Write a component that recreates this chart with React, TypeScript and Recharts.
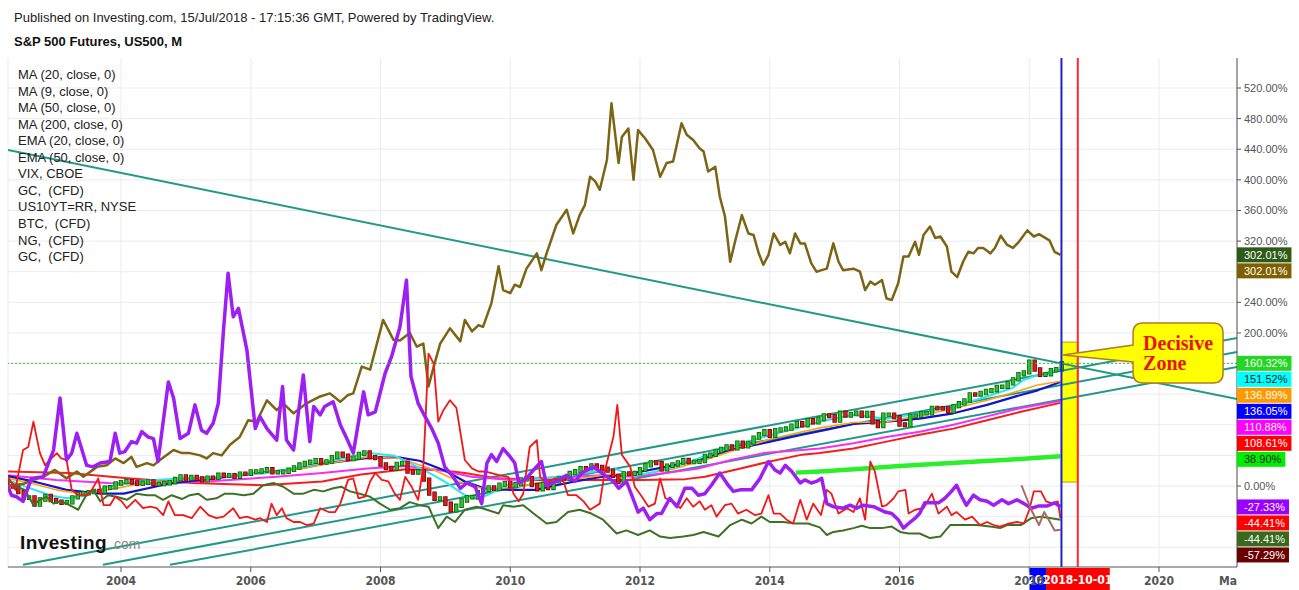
import React from 'react';
import {
  ComposedChart, Line, XAxis, YAxis, CartesianGrid,
  ReferenceLine, ReferenceArea, ReferenceDot,
} from 'recharts';

const SANS = '"Liberation Sans", Arial, sans-serif';
const NARROW = '"Liberation Sans Narrow", "DejaVu Sans Condensed", "Arial Narrow", sans-serif';
const SERIF = '"Liberation Serif", "Times New Roman", serif';

const CHART_W = 1299;
const CHART_H = 590;
const MARGIN = { top: 58, right: 0, bottom: 0, left: 8 };
const Y_AXIS_W = 62;
const X_AXIS_H = 23;
const PLOT_H = CHART_H - MARGIN.top - X_AXIS_H;

const X_DOMAIN: [number, number] = [2002.258, 2021.202];
const Y_DOMAIN: [number, number] = [-105.8, 559.2];

const xTicks = [2004, 2006, 2008, 2010, 2012, 2014, 2016, 2018, 2020];
const gridYValues = [-80, -40, 0, 40, 80, 120, 160, 200, 240, 280, 320, 360, 400, 440, 480, 520];
const yTickLabels = [0, 200, 240, 320, 360, 400, 440, 480, 520];

const legendItems = [
  'MA (20, close, 0)', 'MA (9, close, 0)', 'MA (50, close, 0)', 'MA (200, close, 0)',
  'EMA (20, close, 0)', 'EMA (50, close, 0)', 'VIX, CBOE', 'GC,  (CFD)',
  'US10YT=RR, NYSE', 'BTC,  (CFD)', 'NG,  (CFD)', 'GC,  (CFD)',
];

// S&P 500 futures monthly closes, Apr 2002 .. Jul 2018
const spxStart = 2002.25;
const spxPrevClose = 1147;
const spxCloses = [
  1076, 1067, 990, 912, 916, 815, 886, 936, 880,
  856, 841, 848, 917, 964, 975, 990, 1008, 996, 1051, 1058, 1112,
  1131, 1145, 1126, 1107, 1121, 1141, 1102, 1104, 1115, 1130, 1174, 1212,
  1181, 1204, 1181, 1157, 1192, 1191, 1234, 1220, 1229, 1207, 1250, 1248,
  1280, 1281, 1295, 1311, 1270, 1270, 1277, 1304, 1336, 1378, 1401, 1418,
  1438, 1407, 1421, 1482, 1531, 1503, 1455, 1474, 1527, 1549, 1481, 1468,
  1379, 1331, 1323, 1386, 1400, 1280, 1267, 1283, 1166, 969, 896, 903,
  826, 735, 798, 873, 919, 919, 988, 1021, 1057, 1036, 1096, 1115,
  1074, 1104, 1169, 1187, 1089, 1031, 1102, 1049, 1141, 1183, 1181, 1258,
  1286, 1327, 1326, 1364, 1345, 1321, 1292, 1219, 1131, 1253, 1247, 1258,
  1312, 1366, 1408, 1398, 1310, 1362, 1379, 1407, 1441, 1412, 1416, 1426,
  1498, 1515, 1569, 1598, 1631, 1606, 1686, 1633, 1682, 1757, 1806, 1848,
  1783, 1860, 1872, 1884, 1924, 1960, 1931, 2003, 1972, 2018, 2068, 2059,
  1995, 2105, 2068, 2086, 2107, 2063, 2104, 1972, 1920, 2079, 2080, 2044,
  1940, 1932, 2060, 2065, 2097, 2099, 2174, 2171, 2168, 2126, 2199, 2239,
  2279, 2364, 2363, 2384, 2412, 2423, 2470, 2472, 2519, 2575, 2648, 2674,
  2824, 2714, 2641, 2648, 2705, 2718, 2801,
];

const gold = [
  [2002.25, 0], [2002.5, 3], [2002.65, 8], [2002.8, 12], [2002.98, 21], [2003.16, 10], [2003.32, 19],
  [2003.42, 12], [2003.63, 25], [2003.78, 27], [2003.91, 36], [2004.04, 30], [2004.16, 38], [2004.24, 25],
  [2004.4, 30], [2004.5, 27], [2004.6, 34], [2004.81, 47], [2004.94, 43], [2005.06, 43], [2005.22, 40],
  [2005.32, 36], [2005.42, 43], [2005.55, 40], [2005.68, 54], [2005.83, 64], [2005.96, 86], [2006.09, 84],
  [2006.25, 112], [2006.4, 99], [2006.5, 108], [2006.66, 95], [2006.86, 108], [2007.07, 117], [2007.22, 121],
  [2007.38, 110], [2007.5, 119], [2007.58, 121], [2007.71, 156], [2007.84, 152], [2008.04, 217], [2008.2, 191],
  [2008.3, 190], [2008.45, 200], [2008.56, 182], [2008.66, 186], [2008.74, 130], [2008.82, 156], [2008.92, 186],
  [2009.07, 206], [2009.23, 189], [2009.3, 217], [2009.41, 202], [2009.51, 210], [2009.58, 208], [2009.71, 239],
  [2009.82, 287], [2009.89, 256], [2010.0, 252], [2010.07, 263], [2010.15, 260], [2010.25, 284], [2010.41, 304],
  [2010.48, 282], [2010.56, 304], [2010.71, 341], [2010.87, 361], [2010.97, 330], [2011.07, 354], [2011.15, 367],
  [2011.23, 404], [2011.31, 398], [2011.38, 387], [2011.49, 426], [2011.56, 500], [2011.67, 422], [2011.72, 456],
  [2011.82, 467], [2011.9, 400], [2011.97, 465], [2012.08, 454], [2012.2, 439], [2012.31, 404], [2012.41, 422],
  [2012.51, 424], [2012.64, 474], [2012.72, 459], [2012.82, 452], [2012.92, 441], [2012.98, 437], [2013.05, 411],
  [2013.16, 417], [2013.23, 378], [2013.31, 352], [2013.39, 293], [2013.47, 321], [2013.57, 354], [2013.67, 330],
  [2013.75, 328], [2013.83, 304], [2013.9, 289], [2013.98, 302], [2014.06, 330], [2014.16, 315], [2014.24, 319],
  [2014.31, 304], [2014.39, 330], [2014.47, 317], [2014.54, 317], [2014.64, 291], [2014.72, 280], [2014.8, 282],
  [2014.88, 284], [2014.98, 317], [2015.06, 293], [2015.13, 282], [2015.29, 284], [2015.39, 280], [2015.47, 256],
  [2015.55, 267], [2015.62, 263], [2015.73, 269], [2015.8, 245], [2015.88, 243], [2015.98, 265], [2016.06, 300],
  [2016.14, 300], [2016.24, 319], [2016.3, 302], [2016.37, 328], [2016.47, 339], [2016.55, 324], [2016.63, 326],
  [2016.73, 313], [2016.8, 280], [2016.89, 273], [2016.98, 293], [2017.06, 306], [2017.14, 304], [2017.21, 311],
  [2017.29, 311], [2017.4, 304], [2017.47, 311], [2017.56, 327], [2017.66, 315], [2017.75, 311], [2017.84, 319],
  [2017.97, 334], [2018.07, 326], [2018.15, 329], [2018.31, 321], [2018.39, 306], [2018.48, 302],
];

const vix = [
  [2002.26, -1], [2002.31, -12], [2002.39, -14], [2002.49, -20], [2002.62, 10], [2002.8, 12], [2002.96, 47],
  [2003.06, 115], [2003.16, 34], [2003.24, 43], [2003.32, 69], [2003.47, 27], [2003.57, 25], [2003.68, 30],
  [2003.83, 32], [2003.91, 69], [2003.98, 43], [2004.06, 45], [2004.16, 58], [2004.24, 56], [2004.32, 71],
  [2004.42, 64], [2004.5, 62], [2004.57, 32], [2004.73, 136], [2004.81, 115], [2004.91, 62], [2005.04, 69],
  [2005.14, 106], [2005.24, 73], [2005.32, 69], [2005.42, 82], [2005.5, 108], [2005.58, 204], [2005.65, 278],
  [2005.73, 221], [2005.81, 232], [2005.94, 178], [2006.07, 75], [2006.14, 91], [2006.25, 75], [2006.4, 60],
  [2006.49, 130], [2006.55, 60], [2006.66, 47], [2006.81, 145], [2006.91, 58], [2006.97, 104], [2007.07, 93],
  [2007.14, 104], [2007.27, 110], [2007.38, 80], [2007.48, 62], [2007.58, 43], [2007.74, 123], [2007.81, 93],
  [2007.92, 97], [2008.07, 147], [2008.17, 169], [2008.3, 208], [2008.4, 269], [2008.47, 143], [2008.58, 108],
  [2008.66, 95], [2008.79, 75], [2008.89, 56], [2008.99, 25], [2009.12, 12], [2009.23, -3], [2009.33, 4],
  [2009.46, -1], [2009.56, -23], [2009.64, 30], [2009.71, 41], [2009.79, 32], [2009.89, 49], [2010.0, 38],
  [2010.07, 30], [2010.13, 4], [2010.25, 10], [2010.36, 21], [2010.48, 32], [2010.56, 1], [2010.71, 6],
  [2010.87, 14], [2011.0, 6], [2011.1, 17], [2011.28, 25], [2011.38, 19], [2011.49, 12], [2011.59, 6],
  [2011.67, -3], [2011.79, 6], [2011.9, -18], [2011.97, -34], [2012.05, -29], [2012.15, -44], [2012.26, -36],
  [2012.33, -36], [2012.46, -16], [2012.57, -27], [2012.69, -3], [2012.8, -3], [2012.9, -12], [2013.0, -10],
  [2013.1, 1], [2013.23, 17], [2013.36, 1], [2013.44, -7], [2013.54, -5], [2013.72, -5], [2013.85, 10],
  [2013.98, 32], [2014.08, 21], [2014.16, 17], [2014.24, 27], [2014.34, 19], [2014.47, 4], [2014.54, 8],
  [2014.64, 4], [2014.72, 6], [2014.8, 10], [2014.88, -23], [2014.98, -27], [2015.13, -29], [2015.24, -25],
  [2015.34, -29], [2015.44, -25], [2015.6, -27], [2015.78, -34], [2015.88, -36], [2015.98, -44], [2016.06, -55],
  [2016.14, -49], [2016.24, -42], [2016.31, -36], [2016.39, -22], [2016.49, -22], [2016.6, -22], [2016.7, -16],
  [2016.8, -7], [2016.88, 1], [2016.96, -14], [2017.03, -25], [2017.14, -12], [2017.24, -18], [2017.35, -20],
  [2017.45, -25], [2017.58, -18], [2017.68, -23], [2017.81, -18], [2017.92, -23], [2018.03, -29], [2018.15, -26],
  [2018.28, -26], [2018.39, -22], [2018.48, -27],
];

const natGas = [
  [2002.26, 12], [2002.37, -5], [2002.49, 47], [2002.57, 51], [2002.65, 84], [2002.75, 43], [2002.83, 27],
  [2002.9, 34], [2003.01, 43], [2003.08, 36], [2003.16, 34], [2003.24, -5], [2003.34, -12], [2003.47, -12],
  [2003.55, -5], [2003.65, 10], [2003.73, -25], [2003.83, -25], [2003.91, -14], [2004.01, -20], [2004.09, -29],
  [2004.22, -18], [2004.34, -29], [2004.45, -27], [2004.55, -29], [2004.65, -38], [2004.73, -20], [2004.83, -38],
  [2004.96, -38], [2005.09, -42], [2005.22, -27], [2005.35, -38], [2005.47, -42], [2005.58, -40], [2005.73, -29],
  [2005.83, -42], [2005.94, -40], [2006.07, -44], [2006.14, -42], [2006.25, -47], [2006.32, -23], [2006.4, -38],
  [2006.48, -29], [2006.55, -42], [2006.66, -47], [2006.76, -47], [2006.86, -51], [2006.97, -49], [2007.07, -29],
  [2007.2, -34], [2007.3, -34], [2007.38, -23], [2007.5, 8], [2007.58, 10], [2007.66, -16], [2007.76, -14],
  [2007.84, 6], [2007.92, 17], [2008.02, 8], [2008.12, 6], [2008.22, -10], [2008.3, -18], [2008.38, 12],
  [2008.48, -1], [2008.58, -18], [2008.66, 25], [2008.74, 173], [2008.82, 160], [2008.89, 84], [2008.97, 99],
  [2009.07, 112], [2009.17, 102], [2009.3, 34], [2009.41, 23], [2009.51, 19], [2009.61, 19], [2009.71, 17],
  [2009.84, 14], [2009.97, 12], [2010.05, -10], [2010.13, -20], [2010.2, -10], [2010.3, 51], [2010.41, 60],
  [2010.46, 12], [2010.56, 4], [2010.69, 10], [2010.82, 6], [2010.89, -12], [2011.02, -12], [2011.13, -20],
  [2011.23, -31], [2011.38, -23], [2011.46, 21], [2011.59, 64], [2011.65, 106], [2011.72, 41], [2011.85, 25],
  [2011.92, -1], [2012.03, -14], [2012.13, -27], [2012.23, -23], [2012.31, 10], [2012.39, -16], [2012.51, -20],
  [2012.62, -29], [2012.72, -16], [2012.82, -27], [2012.92, -20], [2013.0, -31], [2013.1, -25], [2013.18, -40],
  [2013.31, -25], [2013.41, -23], [2013.51, -36], [2013.64, -31], [2013.77, -38], [2013.87, -36], [2013.98, -12],
  [2014.06, -36], [2014.16, -36], [2014.26, -44], [2014.36, -49], [2014.47, -18], [2014.57, -44], [2014.67, -23],
  [2014.79, -38], [2014.88, -5], [2014.95, -10], [2015.06, -36], [2015.19, -29], [2015.29, -34], [2015.39, -16],
  [2015.47, -44], [2015.55, 32], [2015.62, 19], [2015.73, -27], [2015.8, -25], [2015.91, -16], [2015.98, -7],
  [2016.09, -5], [2016.14, -36], [2016.24, -31], [2016.37, -29], [2016.5, -10], [2016.6, -36], [2016.73, -27],
  [2016.8, -38], [2016.88, -34], [2017.01, -44], [2017.12, -40], [2017.24, -51], [2017.35, -47], [2017.45, -51],
  [2017.55, -53], [2017.68, -49], [2017.81, -47], [2017.92, -49], [2018.0, -31], [2018.07, -7], [2018.18, -7],
  [2018.26, -20], [2018.36, -23], [2018.44, -20], [2018.48, -42],
];

const us10y = [
  [2002.26, 8], [2002.39, -1], [2002.52, -5], [2002.65, -25], [2002.75, -18], [2002.85, -14], [2002.96, -23],
  [2003.06, -20], [2003.16, -23], [2003.34, -31], [2003.45, -14], [2003.57, -5], [2003.68, -20], [2003.8, -12],
  [2003.93, -14], [2004.09, -18], [2004.24, -10], [2004.4, -12], [2004.52, -12], [2004.65, -18], [2004.78, -12],
  [2004.94, -17], [2005.06, -12], [2005.19, -10], [2005.32, -18], [2005.47, -16], [2005.6, -10], [2005.73, -10],
  [2005.89, -12], [2006.04, -10], [2006.19, 1], [2006.35, 4], [2006.5, -1], [2006.66, -10], [2006.81, -10],
  [2006.97, -5], [2007.12, -7], [2007.27, -3], [2007.4, -1], [2007.53, -7], [2007.68, -10], [2007.84, -14],
  [2007.99, -23], [2008.15, -31], [2008.3, -29], [2008.45, -21], [2008.61, -25], [2008.74, -27], [2008.89, -55],
  [2009.02, -40], [2009.15, -47], [2009.3, -31], [2009.48, -27], [2009.64, -31], [2009.82, -36], [2009.89, -25],
  [2010.05, -27], [2010.2, -25], [2010.36, -36], [2010.56, -49], [2010.71, -47], [2010.89, -34], [2011.07, -31],
  [2011.25, -36], [2011.43, -44], [2011.64, -62], [2011.79, -58], [2011.97, -64], [2012.15, -58], [2012.31, -66],
  [2012.46, -68], [2012.67, -66], [2012.82, -64], [2012.98, -60], [2013.21, -66], [2013.39, -51], [2013.57, -44],
  [2013.72, -49], [2013.87, -40], [2014.0, -47], [2014.21, -47], [2014.39, -49], [2014.59, -49], [2014.77, -54],
  [2014.88, -64], [2014.98, -60], [2015.13, -58], [2015.29, -55], [2015.42, -52], [2015.55, -55], [2015.73, -55],
  [2015.88, -53], [2016.01, -60], [2016.14, -62], [2016.31, -62], [2016.47, -68], [2016.63, -66], [2016.78, -51],
  [2016.99, -51], [2017.19, -51], [2017.4, -53], [2017.55, -55], [2017.66, -51], [2017.87, -51], [2018.03, -42],
  [2018.18, -40], [2018.34, -42], [2018.48, -44],
];

const btc = [
  [2017.88, 1], [2018.03, -31], [2018.15, -51], [2018.23, -34], [2018.3, -44], [2018.39, -58], [2018.48, -57],
];

const ma9 = [
  [2002.26, 8], [2002.6, -3], [2002.9, -12], [2003.16, -16], [2003.47, -12], [2003.78, -1], [2004.3, 7],
  [2005.0, 10], [2005.6, 12], [2006.2, 17], [2006.8, 25], [2007.3, 34], [2007.8, 43], [2008.2, 40],
  [2008.5, 28], [2008.8, 15], [2009.0, 5], [2009.3, -12], [2009.5, -17], [2009.7, -10], [2009.9, 0],
  [2010.3, 8], [2010.8, 13], [2011.3, 19], [2011.6, 23], [2011.9, 13], [2012.2, 18], [2012.5, 24],
  [2012.9, 36], [2013.4, 51], [2013.9, 64], [2014.4, 75], [2014.77, 84], [2015.29, 93], [2015.8, 88],
  [2016.31, 95], [2016.83, 104], [2017.35, 117], [2017.74, 128], [2017.9, 138], [2018.13, 145],
  [2018.31, 149], [2018.48, 151.5],
];

const ema20 = [
  [2002.26, 10], [2002.6, 4], [2003.0, -5], [2003.4, -10], [2003.8, -5], [2004.3, 3], [2005.0, 8],
  [2005.6, 12], [2006.2, 16], [2006.8, 23], [2007.3, 31], [2007.8, 38], [2008.3, 36], [2008.8, 22],
  [2009.2, 6], [2009.6, -4], [2010.0, -2], [2010.5, 4], [2011.0, 9], [2011.5, 15], [2012.0, 15],
  [2012.5, 22], [2013.0, 34], [2013.5, 48], [2014.0, 61], [2014.5, 71], [2014.77, 76], [2015.29, 83],
  [2015.8, 84], [2016.31, 92], [2016.83, 101], [2017.35, 112], [2017.87, 125], [2018.13, 132], [2018.48, 136.9],
];

const ma20 = [
  [2002.26, 13], [2002.7, 5], [2003.16, -5], [2003.68, -10], [2004.04, -10], [2004.73, 3], [2005.73, 13],
  [2006.76, 23], [2007.27, 31], [2007.84, 37], [2008.3, 37], [2008.6, 33], [2009.0, 20], [2009.3, 6],
  [2009.6, -3], [2010.0, -5], [2010.4, -5], [2010.6, -1], [2011.0, 6], [2011.4, 12], [2011.9, 17],
  [2012.4, 25], [2012.9, 34], [2013.4, 47], [2013.9, 56], [2014.5, 67], [2014.9, 74], [2015.29, 81],
  [2015.8, 84], [2016.31, 88], [2016.83, 95], [2017.35, 106], [2017.87, 119], [2018.13, 125], [2018.48, 136],
];

const ema50 = [
  [2002.26, 14], [2003.0, 8], [2003.8, 4], [2004.5, 3], [2005.5, 7], [2006.4, 12], [2007.1, 17],
  [2007.8, 23], [2008.4, 26], [2008.9, 21], [2009.4, 12], [2010.0, 8], [2010.4, 10], [2011.0, 12],
  [2011.4, 14], [2011.9, 12], [2012.4, 17], [2012.9, 23], [2013.4, 34], [2013.9, 43], [2014.5, 47],
  [2014.77, 49], [2015.29, 56], [2015.8, 64], [2016.31, 71], [2016.83, 80], [2017.35, 91], [2017.87, 102],
  [2018.48, 110.9],
];

const ma50 = [
  [2002.26, 19], [2003.2, 17], [2004.1, 10], [2005.1, 4], [2006.2, 1], [2007.1, 6], [2007.7, 15],
  [2008.4, 22], [2008.9, 21], [2009.3, 17], [2009.8, 10], [2010.4, 8], [2011.0, 8], [2012.0, 8],
  [2012.7, 9], [2013.0, 12], [2013.5, 22], [2014.0, 32], [2014.5, 41], [2014.77, 43], [2015.29, 49],
  [2015.8, 58], [2016.31, 67], [2016.83, 75], [2017.35, 86], [2017.87, 97], [2018.48, 108.6],
];

const ma200 = [
  [2014.4, 17.5], [2014.77, 19], [2015.3, 22], [2016.0, 26], [2016.6, 29], [2017.2, 32], [2017.8, 35], [2018.48, 38.9],
];

const trendLines = [
  [[2002.258, 439], [2021.202, 113.7]],
  [[2002.49, -103], [2021.202, 193.4]],
  [[2003.72, -103], [2021.202, 175.1]],
  [[2004.755, -103], [2021.202, 155.5]],
];

const lastPrice = 160.32;
const zone = { x1: 2018.496, x2: 2018.748, y1: 5.2, y2: 188 };
const callout = { x1: 2019.6, x2: 2020.987, y1: 134.6, y2: 213 };
const julyLine = 2018.496;
const octLine = 2018.748;

const axisTags = [
  { value: 302.01, bg: '#2d5a17', fg: '#ffffff' },
  { value: 302.01, bg: '#7f6000', fg: '#ffffff' },
  { value: 160.32, bg: '#22d622', fg: '#ffffff' },
  { value: 151.52, bg: '#00ffff', fg: '#1a1a1a' },
  { value: 136.89, bg: '#ff9900', fg: '#ffffff' },
  { value: 136.05, bg: '#0000ff', fg: '#ffffff' },
  { value: 110.88, bg: '#ff00ff', fg: '#ffffff' },
  { value: 108.61, bg: '#ff0000', fg: '#ffffff' },
  { value: 38.9, bg: '#00ee00', fg: '#1a1a1a' },
  { value: -27.33, bg: '#9900ff', fg: '#ffffff' },
  { value: -44.41, bg: '#ff0000', fg: '#ffffff' },
  { value: -44.41, bg: '#38691c', fg: '#ffffff' },
  { value: -57.29, bg: '#6b0000', fg: '#ffffff' },
];

// ---------- derived ----------
const pts = (arr: number[][]) => arr.map(([x, y]) => ({ x, y }));

const spxBase = spxCloses[0];
const candles = spxCloses.map((c, i) => {
  const o = i === 0 ? spxPrevClose : spxCloses[i - 1];
  return { x: spxStart + i / 12, open: (o / spxBase - 1) * 100, close: (c / spxBase - 1) * 100 };
});
// each candle body becomes its own vertical segment (open -> close), separated by gaps
const bodySegments = (up: boolean) => {
  const out: { x: number; y: number | null }[] = [];
  candles.forEach((k) => {
    if ((k.close >= k.open) !== up) return;
    out.push({ x: k.x, y: k.open }, { x: k.x, y: k.close }, { x: k.x, y: null });
  });
  return out;
};
const upBodies = bodySegments(true);
const downBodies = bodySegments(false);

const TAG_GAP = (16 * (Y_DOMAIN[1] - Y_DOMAIN[0])) / PLOT_H;
const placedTags = (() => {
  let prev = Infinity;
  return axisTags.map((t) => {
    const pos = Math.min(t.value, prev - TAG_GAP);
    prev = pos;
    return { ...t, pos };
  });
})();

const charW = (s: string) =>
  s.split('').reduce((a, ch) => a + (ch === '.' ? 3.06 : ch === '%' ? 9.78 : ch === '-' ? 3.66 : 6.12), 0);

function Callout(props: any) {
  const { x, y, width: w, height: h } = props;
  if (x == null) return null;
  const r = 10;
  const tipX = x - 70;
  const tipY = y + 32;
  const d = `M${x + r},${y} H${x + w - r} Q${x + w},${y} ${x + w},${y + r} V${y + h - r} Q${x + w},${y + h} ${x + w - r},${y + h} H${x + r} Q${x},${y + h} ${x},${y + h - r} V${y + 39} L${tipX},${tipY} L${x},${y + 22} V${y + r} Q${x},${y} ${x + r},${y} Z`;
  return (
    <g>
      <path d={d} fill="#ffff00" stroke="#b07b2c" strokeWidth={1.5} />
      <text x={x + 10} y={y + 27} fill="#e8130f" fontFamily={SERIF} fontWeight="bold" fontSize={20}>Decisive</text>
      <text x={x + 10} y={y + 47} fill="#e8130f" fontFamily={SERIF} fontWeight="bold" fontSize={20}>Zone</text>
    </g>
  );
}

function XTick(props: any) {
  const { x, y, payload } = props;
  return (
    <text x={x} y={y + 11} textAnchor="middle" fill="#555" fontSize={12} fontWeight="bold" fontFamily={NARROW}>
      {payload.value}
    </text>
  );
}

function YTick(props: any) {
  const { x, y, payload } = props;
  return (
    <text x={x + 1} y={y + 4} textAnchor="start" fill="#555" fontSize={11} fontFamily={SANS}>
      {`${Number(payload.value).toFixed(2)}%`}
    </text>
  );
}

function dateTag(text: string, bg: string) {
  return (p: any) => {
    const vb = p.viewBox || {};
    const cx = vb.x;
    const by = (vb.y || 0) + (vb.height || 0);
    if (cx == null) return null;
    return (
      <g>
        <rect x={cx - 32} y={by + 1} width={64} height={22} fill={bg} />
        <text x={cx} y={by + 16.5} textAnchor="middle" fill="#fff" fontSize={12} fontWeight="bold" fontFamily={NARROW}>{text}</text>
      </g>
    );
  };
}

function axisTagShape(text: string, bg: string, fg: string) {
  return (p: any) => {
    const { cx, cy } = p;
    if (cx == null || cy == null) return null;
    const w = 7 + charW(text) + 4;
    return (
      <g>
        <rect x={cx} y={cy - 7.5} width={w} height={15} fill={bg} />
        <text x={cx + 7} y={cy + 4} fill={fg} fontSize={11} fontFamily={SANS}>{text}</text>
      </g>
    );
  };
}

const lineCommon = { dot: false, isAnimationActive: false, type: 'linear' as const, dataKey: 'y', activeDot: false, strokeLinejoin: 'round' as const };
const bodyCommon = { ...lineCommon, connectNulls: false, strokeLinecap: 'square' as const };

export default function App() {
  return (
    <div style={{ position: 'absolute', left: 0, top: 0, width: CHART_W, height: CHART_H, background: '#fff', overflow: 'hidden' }}>
      <ComposedChart width={CHART_W} height={CHART_H} margin={MARGIN}>
        <CartesianGrid stroke="#ebebeb" strokeWidth={1} horizontalValues={gridYValues} />
        <XAxis dataKey="x" type="number" domain={X_DOMAIN} allowDataOverflow ticks={xTicks}
          height={X_AXIS_H} tickSize={5} tickMargin={2} tick={<XTick />}
          axisLine={{ stroke: '#555' }} tickLine={{ stroke: '#555' }} interval={0} />
        <YAxis type="number" orientation="right" domain={Y_DOMAIN} allowDataOverflow ticks={yTickLabels}
          width={Y_AXIS_W} tickSize={4} tickMargin={2} tick={<YTick />}
          axisLine={{ stroke: '#555' }} tickLine={{ stroke: '#555' }} interval={0} />

        <ReferenceArea x1={zone.x1} x2={zone.x2} y1={zone.y1} y2={zone.y2}
          fill="#ffff00" fillOpacity={1} stroke="#b3a100" strokeWidth={1} ifOverflow="visible" />

        {trendLines.map((seg, i) => (
          <Line key={`t${i}`} {...lineCommon} data={pts(seg)} stroke="#21998a" strokeWidth={2} />
        ))}

        <Line {...lineCommon} data={pts(ma50)} stroke="#f41e1e" strokeWidth={2} />
        <Line {...lineCommon} data={pts(ema50)} stroke="#f52ff5" strokeWidth={2} />
        <Line {...lineCommon} data={pts(ma20)} stroke="#1515c8" strokeWidth={2.2} />
        <Line {...lineCommon} data={pts(ema20)} stroke="#ffa11c" strokeWidth={1.6} />
        <Line {...lineCommon} data={pts(ma9)} stroke="#2ee6ee" strokeWidth={2} />
        <Line {...lineCommon} data={pts(ma200)} stroke="#2bef2b" strokeWidth={4.5} />

        <Line {...bodyCommon} data={upBodies} stroke="#125c12" strokeWidth={4.4} />
        <Line {...bodyCommon} data={upBodies} stroke="#26c626" strokeWidth={2.8} />
        <Line {...bodyCommon} data={downBodies} stroke="#620b0b" strokeWidth={4.4} />
        <Line {...bodyCommon} data={downBodies} stroke="#e31818" strokeWidth={2.8} />

        <Line {...lineCommon} data={pts(gold)} stroke="#7c6414" strokeWidth={2.5} />
        <Line {...lineCommon} data={pts(us10y)} stroke="#3f7125" strokeWidth={2} />
        <Line {...lineCommon} data={pts(natGas)} stroke="#f01818" strokeWidth={1.8} />
        <Line {...lineCommon} data={pts(vix)} stroke="#9d1ff2" strokeWidth={3.5} />
        <Line {...lineCommon} data={pts(btc)} stroke="#a86a66" strokeWidth={2} />

        <ReferenceLine y={lastPrice} stroke="#2fbf2f" strokeDasharray="2 2" strokeWidth={1} />
        <ReferenceLine x={julyLine} stroke="#1f1fd6" strokeWidth={2} label={dateTag('2018-07-01', '#0000ff')} />
        <ReferenceLine x={octLine} stroke="#ff2a2a" strokeWidth={2} label={dateTag('2018-10-01', '#ff0000')} />

        <ReferenceArea x1={callout.x1} x2={callout.x2} y1={callout.y1} y2={callout.y2}
          ifOverflow="visible" shape={(p: any) => <Callout {...p} />} {...({ zIndex: 1600 } as any)} />

        {placedTags.map((t, i) => {
          const text = `${t.value.toFixed(2)}%`;
          return (
            <ReferenceDot key={`tag${i}`} x={X_DOMAIN[1]} y={t.pos} r={0} ifOverflow="visible"
              shape={axisTagShape(text, t.bg, t.fg)} {...({ zIndex: 1700 } as any)} />
          );
        })}
      </ComposedChart>

      <svg width={CHART_W} height={CHART_H} style={{ position: 'absolute', left: 0, top: 0, pointerEvents: 'none' }}>
        <text x={14} y={21.5} fontSize={13} fontFamily={SANS} fill="#222">
          Published on Investing.com, 15/Jul/2018 - 17:15:36 GMT, Powered by TradingView.
        </text>
        <text x={14} y={46} fontSize={13} fontWeight="bold" fontFamily={SANS} fill="#111">
          S&amp;P 500 Futures, US500, M
        </text>
        {legendItems.map((s, i) => (
          <text key={i} x={18} y={79 + i * 16.55} fontSize={13} fontFamily={SANS} fill="#222" style={{ whiteSpace: 'pre' }}>{s}</text>
        ))}
        <text x={20} y={549} fontSize={19} fontWeight="bold" fontFamily={SANS} fill="#111" letterSpacing={0.4}>Investing</text>
        <text x={110} y={549} fontSize={14} fontFamily={SANS} fill="#8a8a8a">.com</text>
        <text x={1228} y={585} textAnchor="middle" fontSize={12} fontWeight="bold" fontFamily={NARROW} fill="#555">Ma</text>
      </svg>
    </div>
  );
}
